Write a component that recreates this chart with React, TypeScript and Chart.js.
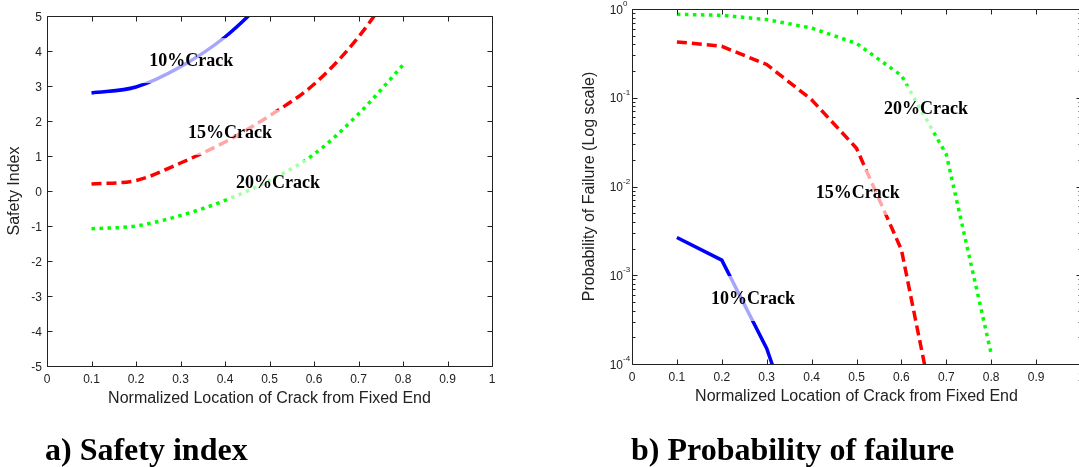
import React, { useEffect, useRef } from "react";
import { Chart, registerables } from "chart.js";

Chart.register(...registerables);

// ---------------- data ----------------
const crackLocations = [0.1, 0.2, 0.3, 0.4, 0.5, 0.6, 0.7, 0.8];

// a) Safety index (values above 5 run off the axes and are clipped)
const safety10 = [2.8, 2.97, 3.55, 4.4, 5.6, 7.0];
const safety15 = [0.2, 0.3, 0.8, 1.4, 2.15, 3.05, 4.4, 6.2];
const safety20 = [-1.08, -1.0, -0.7, -0.27, 0.3, 1.05, 2.2, 3.6];

// b) Probability of failure (values below 1e-4 are clipped)
const pf10 = [2.66e-3, 1.48e-3, 1.5e-4, 5e-6];
const pf15 = [0.426, 0.38, 0.237, 0.095, 0.027, 1.94e-3, 6e-6];
const pf20 = [0.87, 0.85, 0.76, 0.61, 0.41, 0.178, 0.023, 1.3e-4];

const seriesNames = ["10%Crack", "15%Crack", "20%Crack"];

const xTicks = [0, 0.1, 0.2, 0.3, 0.4, 0.5, 0.6, 0.7, 0.8, 0.9, 1];
const xTickLabels = ["0", "0.1", "0.2", "0.3", "0.4", "0.5", "0.6", "0.7", "0.8", "0.9", "1"];
const safetyTicks = [-5, -4, -3, -2, -1, 0, 1, 2, 3, 4, 5];
const safetyTickLabels = ["-5", "-4", "-3", "-2", "-1", "0", "1", "2", "3", "4", "5"];
const pfTicks = [1e-4, 1e-3, 1e-2, 1e-1, 1];
const pfTickExponents = ["-4", "-3", "-2", "-1", "0"];
const pfMinorMultipliers = [2, 3, 4, 5, 6, 7, 8, 9];

// label anchor points in data coordinates
const safetyLabelX = [0.324, 0.411, 0.519];
const safetyLabelY = [3.74, 1.686, 0.257];
const pfLabelX = [0.2695, 0.503, 0.655];
const pfLabelY = [5.54e-4, 0.0087, 0.0773];

const xTitle = "Normalized Location of Crack from Fixed End";
const safetyTitle = "Safety Index";
const pfTitle = "Probability of Failure (Log scale)";
const captionA = "a) Safety index";
const captionB = "b) Probability of failure";

// ---------------- styling ----------------
const COLORS = ["#0000ff", "#ff0000", "#00ff00"];
const DASHES: number[][] = [[], [10, 5], [3.5, 4.5]];
const AXIS_COLOR = "#222";
const TICK_FONT = "12px 'Liberation Sans', Arial, sans-serif";
const EXP_FONT = "8px 'Liberation Sans', Arial, sans-serif";
const TITLE_FONT = "16px 'Liberation Sans', Arial, sans-serif";
const LABEL_FONT = "bold 18px 'Liberation Serif', 'Times New Roman', serif";
const CAPTION_FONT = "bold 32px 'Liberation Serif', 'Times New Roman', serif";
const H = 467;

interface FrameCfg {
  id: string;
  log: boolean;
  yTicks: number[];
  yTickLabels: string[];
  yTitle: string;
  yTitleX: number;
  caption: string;
  captionX: number;
  labelX: number[];
  labelY: number[];
}

function makeFramePlugin(cfg: FrameCfg) {
  return {
    id: "frame-" + cfg.id,
    afterDatasetsDraw(chart: any) {
      const ctx: CanvasRenderingContext2D = chart.ctx;
      const xs = chart.scales.x;
      const ys = chart.scales.y;
      ctx.save();
      ctx.font = LABEL_FONT;
      ctx.textAlign = "center";
      ctx.textBaseline = "alphabetic";
      seriesNames.forEach((name, i) => {
        const cx = xs.getPixelForValue(cfg.labelX[i]);
        const cy = ys.getPixelForValue(cfg.labelY[i]);
        const w = ctx.measureText(name).width;
        ctx.fillStyle = "rgba(255,255,255,0.65)";
        ctx.fillRect(cx - w / 2 - 8, cy - 22, w + 16, 45);
        ctx.fillStyle = "#000";
        ctx.fillText(name, cx, cy + 6);
      });
      ctx.restore();
    },
    afterDraw(chart: any) {
      const ctx: CanvasRenderingContext2D = chart.ctx;
      const a = chart.chartArea;
      const xs = chart.scales.x;
      const ys = chart.scales.y;
      const L = Math.round(a.left) + 0.5;
      const R = Math.round(a.right) + 0.5;
      const T = Math.round(a.top) + 0.5;
      const B = Math.round(a.bottom) + 0.5;
      ctx.save();
      ctx.strokeStyle = AXIS_COLOR;
      ctx.lineWidth = 1;
      ctx.beginPath();
      ctx.rect(L, T, R - L, B - T);
      // x ticks (inward, bottom and top)
      xTicks.forEach((v) => {
        const px = Math.round(xs.getPixelForValue(v)) + 0.5;
        ctx.moveTo(px, B);
        ctx.lineTo(px, B - 5);
        ctx.moveTo(px, T);
        ctx.lineTo(px, T + 5);
      });
      // y ticks (inward, left and right)
      cfg.yTicks.forEach((v) => {
        const py = Math.round(ys.getPixelForValue(v)) + 0.5;
        ctx.moveTo(L, py);
        ctx.lineTo(L + 5, py);
        ctx.moveTo(R, py);
        ctx.lineTo(R - 5, py);
      });
      if (cfg.log) {
        for (let i = 0; i < cfg.yTicks.length - 1; i++) {
          pfMinorMultipliers.forEach((m) => {
            const py = Math.round(ys.getPixelForValue(cfg.yTicks[i] * m)) + 0.5;
            ctx.moveTo(L, py);
            ctx.lineTo(L + 3, py);
            ctx.moveTo(R, py);
            ctx.lineTo(R - 3, py);
          });
        }
      }
      ctx.stroke();

      // tick labels
      ctx.fillStyle = AXIS_COLOR;
      ctx.font = TICK_FONT;
      ctx.textAlign = "center";
      ctx.textBaseline = "alphabetic";
      xTicks.forEach((v, i) => {
        ctx.fillText(xTickLabels[i], xs.getPixelForValue(v), a.bottom + 16.5);
      });
      cfg.yTicks.forEach((v, i) => {
        const py = ys.getPixelForValue(v);
        if (cfg.log) {
          ctx.font = TICK_FONT;
          ctx.textAlign = "right";
          ctx.fillText("10", a.left - 9, py + 4.5);
          ctx.font = EXP_FONT;
          ctx.textAlign = "left";
          ctx.fillText(cfg.yTickLabels[i], a.left - 9, py - 3);
        } else {
          ctx.textAlign = "right";
          ctx.fillText(cfg.yTickLabels[i], a.left - 5, py + 4.5);
        }
      });

      // axis titles
      ctx.fillStyle = "#222";
      ctx.font = TITLE_FONT;
      ctx.textAlign = "center";
      ctx.fillText(xTitle, (a.left + a.right) / 2, a.bottom + 37);
      ctx.save();
      ctx.translate(cfg.yTitleX, (a.top + a.bottom) / 2);
      ctx.rotate(-Math.PI / 2);
      ctx.fillText(cfg.yTitle, 0, 0);
      ctx.restore();

      // caption
      ctx.fillStyle = "#000";
      ctx.font = CAPTION_FONT;
      ctx.textAlign = "left";
      ctx.fillText(cfg.caption, cfg.captionX, 460);
      ctx.restore();
    },
  };
}

function lineDataset(values: number[], idx: number, smooth: boolean) {
  return {
    label: seriesNames[idx],
    data: values.map((y, i) => ({ x: crackLocations[i], y })),
    borderColor: COLORS[idx],
    backgroundColor: COLORS[idx],
    borderWidth: 3.5,
    borderDash: DASHES[idx],
    borderCapStyle: "butt" as const,
    pointRadius: 0,
    fill: false,
    clip: 0,
    tension: 0,
    cubicInterpolationMode: smooth ? ("monotone" as const) : ("default" as const),
  };
}

function baseOptions(padding: any, yAxisWidth: number, xAxisHeight: number, yScale: any) {
  return {
    responsive: false,
    animation: false as const,
    events: [] as any[],
    layout: { padding },
    plugins: { legend: { display: false }, tooltip: { enabled: false } },
    scales: {
      x: {
        type: "linear" as const,
        min: 0,
        max: 1,
        ticks: { display: false },
        grid: { display: false },
        border: { display: false },
        afterFit: (s: any) => {
          s.height = xAxisHeight;
        },
      },
      y: {
        ...yScale,
        ticks: { display: false },
        grid: { display: false },
        border: { display: false },
        afterFit: (s: any) => {
          s.width = yAxisWidth;
        },
      },
    },
  };
}

export default function App() {
  const refA = useRef<HTMLCanvasElement>(null);
  const refB = useRef<HTMLCanvasElement>(null);

  useEffect(() => {
    const chartA = new Chart(refA.current as HTMLCanvasElement, {
      type: "line",
      data: {
        datasets: [
          lineDataset(safety10, 0, true),
          lineDataset(safety15, 1, true),
          lineDataset(safety20, 2, true),
        ],
      },
      options: baseOptions({ left: 0, top: 16, right: 48, bottom: 0 }, 47, H - 366, {
        type: "linear",
        min: -5,
        max: 5,
      }) as any,
      plugins: [
        makeFramePlugin({
          id: "a",
          log: false,
          yTicks: safetyTicks,
          yTickLabels: safetyTickLabels,
          yTitle: safetyTitle,
          yTitleX: 19,
          caption: captionA,
          captionX: 45,
          labelX: safetyLabelX,
          labelY: safetyLabelY,
        }),
      ],
    } as any);

    const chartB = new Chart(refB.current as HTMLCanvasElement, {
      type: "line",
      data: {
        datasets: [
          lineDataset(pf10, 0, false),
          lineDataset(pf15, 1, false),
          lineDataset(pf20, 2, false),
        ],
      },
      options: baseOptions({ left: 0, top: 9, right: 19, bottom: 0 }, 92, H - 364, {
        type: "logarithmic",
        min: 1e-4,
        max: 1,
      }) as any,
      plugins: [
        makeFramePlugin({
          id: "b",
          log: true,
          yTicks: pfTicks,
          yTickLabels: pfTickExponents,
          yTitle: pfTitle,
          yTitleX: 54,
          caption: captionB,
          captionX: 91,
          labelX: pfLabelX,
          labelY: pfLabelY,
        }),
      ],
    } as any);

    return () => {
      chartA.destroy();
      chartB.destroy();
    };
  }, []);

  return (
    <div
      style={{
        position: "absolute",
        left: 0,
        top: 0,
        width: 1079,
        height: H,
        overflow: "hidden",
        background: "#fff",
      }}
    >
      <canvas
        ref={refA}
        width={540}
        height={H}
        style={{ position: "absolute", left: 0, top: 0, width: 540, height: H }}
      />
      <canvas
        ref={refB}
        width={560}
        height={H}
        style={{ position: "absolute", left: 540, top: 0, width: 560, height: H }}
      />
    </div>
  );
}
